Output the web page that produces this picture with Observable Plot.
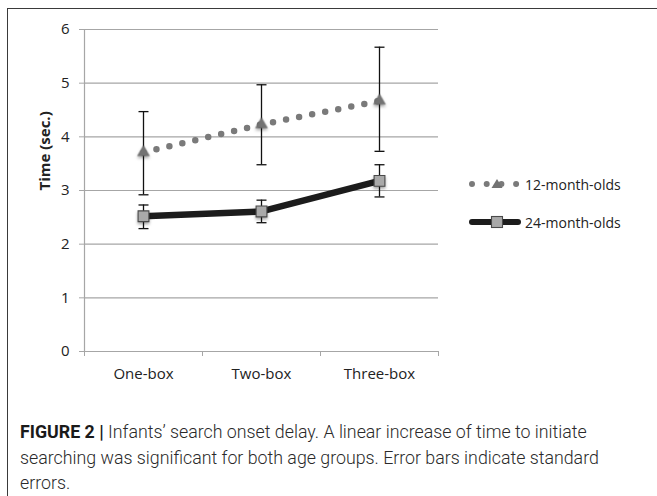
<!DOCTYPE html>
<html>
<head>
<meta charset="utf-8">
<script src="https://cdn.jsdelivr.net/npm/d3@7"></script>
<script src="https://cdn.jsdelivr.net/npm/@observablehq/plot@0.6"></script>
<style>
  html, body { margin: 0; padding: 0; background: #fff; }
  body { width: 657px; height: 496px; position: relative; overflow: hidden; font-family: "Open Sans", Lato, sans-serif; }
  #frame { position: absolute; left: 7px; top: 8px; width: 700px; height: 600px; border: 1.3px solid #3a3a3a; box-sizing: border-box; }
  #chart { position: absolute; left: 0; top: 0; }
  #legend { position: absolute; left: 466px; top: 172px; font-family: "Open Sans", Lato, sans-serif; font-size: 14px; color: #222; }
  #legend .row { display: flex; align-items: center; height: 24px; margin-bottom: 14px; }
  #legend svg { margin-right: 3px; }
  #caption { position: absolute; left: 20px; top: 419px; width: 636px; font-family: "Roboto", sans-serif; font-weight: 300; font-size: 17.8px; line-height: 25.5px; color: #2a2a2a; white-space: nowrap; }
  #caption b { color: #1a1a1a; font-weight: 700; }
  .shadow { filter: drop-shadow(0px 2px 1.5px rgba(0,0,0,0.35)); }
</style>
</head>
<body>
<div id="frame"></div>
<div id="chart"></div>
<div id="legend"></div>
<div id="caption"></div>
<script>
const categories = ["One-box", "Two-box", "Three-box"];
const seriesNames = ["12-month-olds", "24-month-olds"];
const m12 = [3.71, 4.23, 4.67];
const m12Lo = [2.92, 3.48, 3.73];
const m12Hi = [4.47, 4.97, 5.67];
const m24 = [2.52, 2.61, 3.18];
const m24Lo = [2.29, 2.40, 2.88];
const m24Hi = [2.73, 2.82, 3.48];
const yTicks = [0, 1, 2, 3, 4, 5, 6];
const yLabel = "Time (sec.)";
const captionBold = "FIGURE 2 |";
const captionLines = [
  " Infants\u2019 search onset delay. A linear increase of time to initiate",
  "searching was significant for both age groups. Error bars indicate standard",
  "errors."
];

const rows12 = categories.map((c, i) => ({i: i + 0.5, c, v: m12[i], lo: m12Lo[i], hi: m12Hi[i]}));
const rows24 = categories.map((c, i) => ({i: i + 0.5, c, v: m24[i], lo: m24Lo[i], hi: m24Hi[i]}));
const all = rows12.concat(rows24);

const capSymbol = {
  draw(ctx, size) {
    const w = Math.sqrt(size / Math.PI);
    ctx.moveTo(-w, 0);
    ctx.lineTo(w, 0);
  }
};

const font = '"Open Sans", Lato, sans-serif';
const chart = Plot.plot({
  width: 657,
  height: 400,
  marginLeft: 84,
  marginRight: 219,
  marginTop: 29,
  marginBottom: 49,
  style: {fontFamily: font, fontSize: "14px", color: "#222", background: "transparent", overflow: "visible"},
  x: {domain: [0, categories.length]},
  y: {domain: [0, 6]},
  marks: [
    Plot.ruleY(yTicks.filter(d => d > 0), {stroke: "#a6a6a6", strokeWidth: 1.2}),
    Plot.ruleY([0], {stroke: "#a6a6a6", strokeWidth: 1.2}),
    Plot.ruleX([0], {stroke: "#a6a6a6", strokeWidth: 1.2}),
    Plot.axisY({ticks: yTicks, tickSize: 5, tickPadding: 10, tickFormat: d => String(d), stroke: "#a6a6a6", fill: "#222", fontSize: 15, label: null}),
    Plot.axisX({ticks: d3.range(categories.length + 1), tickSize: 5, tickFormat: () => "", stroke: "#a6a6a6", label: null}),
    Plot.axisX({ticks: categories.map((c, i) => i + 0.5), tickSize: 0, tickPadding: 17, tickFormat: d => categories[Math.floor(d)], fill: "#222", fontSize: 15, label: null}),
    Plot.text([yLabel], {frameAnchor: "left", dx: -39, rotate: -90, fontWeight: "bold", fontSize: 15, fill: "#222"}),
    Plot.line(rows12, {x: "i", y: "v", stroke: "#7a7a7a", strokeWidth: 6.5, strokeLinecap: "round", strokeDasharray: "0 13.3"}),
    Plot.line(rows24, {x: "i", y: "v", stroke: "#1c1c1c", strokeWidth: 6.5, strokeLinejoin: "round"}),
    Plot.ruleX(all, {x: "i", y1: "lo", y2: "hi", stroke: "#111", strokeWidth: 1.3}),
    Plot.dot(all, {x: "i", y: "lo", symbol: capSymbol, r: 5, stroke: "#111", strokeWidth: 1.3, fill: "none"}),
    Plot.dot(all, {x: "i", y: "hi", symbol: capSymbol, r: 5, stroke: "#111", strokeWidth: 1.3, fill: "none"}),
    Plot.dot(rows12, {x: "i", y: "v", symbol: "triangle", r: 4.4, fill: "#737373", stroke: "#6a6a6a", strokeWidth: 0.5, className: "shadow"}),
    Plot.dot(rows24, {x: "i", y: "v", symbol: "square", r: 6.1, fill: "#a9a9a9", stroke: "#4a4a4a", strokeWidth: 1.1, className: "shadow"})
  ]
});
document.getElementById("chart").appendChild(chart);

// Legend
const legend = document.getElementById("legend");
const legendSvg = [
  `<svg width="56" height="14" viewBox="0 0 56 14"><line x1="6" y1="7" x2="51" y2="7" stroke="#7a7a7a" stroke-width="6" stroke-linecap="round" stroke-dasharray="0 14.7"/><path d="M31,2 L36.5,11 L25.5,11 Z" fill="#737373"/></svg>`,
  `<svg width="56" height="14" viewBox="0 0 56 14"><line x1="6" y1="7" x2="52" y2="7" stroke="#1c1c1c" stroke-width="6" stroke-linecap="round"/><rect x="25.5" y="1.5" width="11" height="11" fill="#a9a9a9" stroke="#4a4a4a" stroke-width="1.1"/></svg>`
];
seriesNames.forEach((name, k) => {
  const row = document.createElement("div");
  row.className = "row";
  row.innerHTML = legendSvg[k] + `<span>${name}</span>`;
  legend.appendChild(row);
});

// Caption
const cap = document.getElementById("caption");
cap.innerHTML = `<b>${captionBold}</b>${captionLines[0]}<br>${captionLines[1]}<br>${captionLines[2]}`;
</script>
</body>
</html>
